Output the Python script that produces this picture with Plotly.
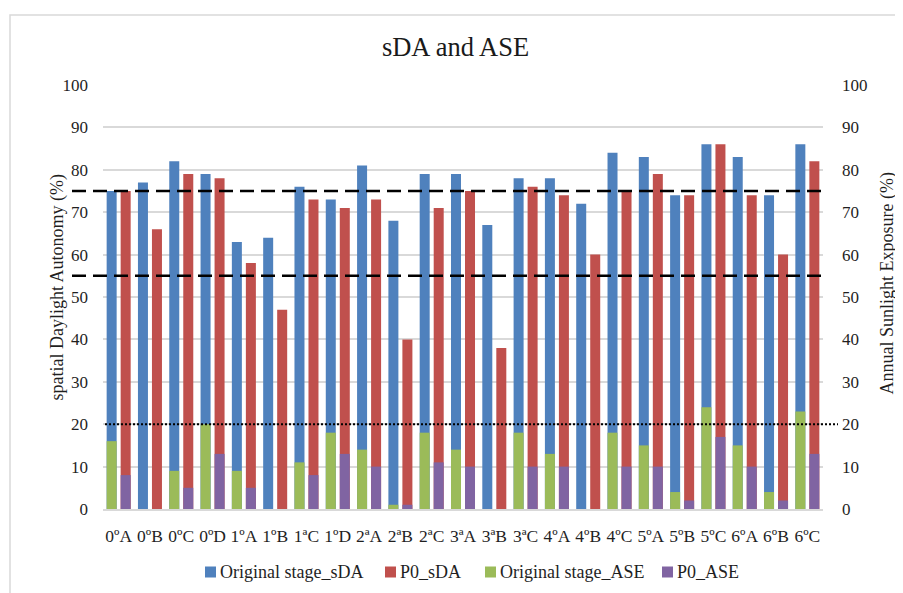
import plotly.graph_objects as go

categories = ["0ºA", "0ºB", "0ºC", "0ºD", "1ºA", "1ºB", "1ªC", "1ºD", "2ªA", "2ªB", "2ªC",
              "3ªA", "3ªB", "3ªC", "4ºA", "4ºB", "4ºC", "5ºA", "5ºB", "5ºC", "6ºA", "6ºB", "6ºC"]
original_sda = [75, 77, 82, 79, 63, 64, 76, 73, 81, 68, 79, 79, 67, 78, 78, 72, 84, 83, 74, 86, 83, 74, 86]
p0_sda = [75, 66, 79, 78, 58, 47, 73, 71, 73, 40, 71, 75, 38, 76, 74, 60, 75, 79, 74, 86, 74, 60, 82]
original_ase = [16, 0, 9, 20, 9, 0, 11, 18, 14, 1, 18, 14, 0, 18, 13, 0, 18, 15, 4, 24, 15, 4, 23]
p0_ase = [8, 0, 5, 13, 5, 0, 8, 13, 10, 1, 11, 10, 0, 10, 10, 0, 10, 10, 2, 17, 10, 2, 13]
series_names = ["Original stage_sDA", "P0_sDA", "Original stage_ASE", "P0_ASE"]
series_colors = ["#4F81BD", "#C0504D", "#9BBB59", "#8064A2"]
sda_thresholds = [75, 55]
ase_threshold = 20

FONT = "Liberation Serif"
OFF = 8  # page body margin in the browser
W, H = 903 - OFF, 593 - OFF
L, R, T, B = 103 - OFF, 80, 85 - OFF, 84
pw, ph = W - L - R, H - T - B


def px_x(p):
    return (p - OFF - L) / pw


def px_y(p):
    return (H - B - (p - OFF)) / ph


fig = go.Figure()
values = [original_sda, p0_sda, original_ase, p0_ase]
axes = ["y", "y", "y2", "y2"]
for name, col, vals, ax in zip(series_names, series_colors, values, axes):
    fig.add_trace(go.Bar(x=categories, y=vals, name=name, yaxis=ax, showlegend=False,
                         marker=dict(color=col, line=dict(width=0))))

shapes = []
for v in sda_thresholds:
    shapes.append(dict(type="line", xref="paper", yref="y", x0=px_x(72), x1=px_x(826),
                       y0=v, y1=v, line=dict(color="black", width=2.5, dash="14px,7px")))
shapes.append(dict(type="line", xref="paper", yref="y2", x0=px_x(105), x1=px_x(838),
                   y0=ase_threshold, y1=ase_threshold,
                   line=dict(color="black", width=2, dash="2px,2px")))
shapes.append(dict(type="rect", xref="paper", yref="paper", x0=px_x(10), x1=px_x(915),
                   y0=px_y(610), y1=px_y(15), line=dict(color="#d9d9d9", width=1.5),
                   fillcolor="rgba(0,0,0,0)", layer="below"))

annotations = [
    dict(text="spatial Daylight Autonomy (%)", xref="paper", yref="paper",
         x=px_x(44), y=px_y(288), textangle=-90, showarrow=False,
         xanchor="left", yanchor="middle", font=dict(size=18, color="#1f1f1f")),
    dict(text="Annual Sunlight Exposure (%)", xref="paper", yref="paper",
         x=px_x(874), y=px_y(284), textangle=-90, showarrow=False,
         xanchor="left", yanchor="middle", font=dict(size=18, color="#1f1f1f")),
]

# legend (drawn manually to match the reference spacing)
legend_x = [205, 385, 485, 662]
leg_y = 572
for lx, name, col in zip(legend_x, series_names, series_colors):
    shapes.append(dict(type="rect", xref="paper", yref="paper",
                       x0=px_x(lx), x1=px_x(lx + 11), y0=px_y(leg_y + 5.5), y1=px_y(leg_y - 5.5),
                       fillcolor=col, line=dict(width=0)))
    annotations.append(dict(text=name, xref="paper", yref="paper", x=px_x(lx + 13),
                            y=px_y(leg_y), xanchor="left", yanchor="middle", showarrow=False,
                            font=dict(size=18, color="#1f1f1f")))

fig.update_layout(
    width=W, height=H,
    margin=dict(l=L, r=R, t=T, b=B, autoexpand=False),
    paper_bgcolor="white", plot_bgcolor="white",
    font=dict(family=FONT, size=17, color="#1f1f1f"),
    barmode="group", bargap=0.105, bargroupgap=0.286,
    showlegend=False,
    title=dict(text="sDA and ASE", x=px_x(463), xanchor="center", y=1 - (47 - OFF) / H,
               yanchor="middle", font=dict(family=FONT, size=26.5, color="#1a1a1a")),
    xaxis=dict(showgrid=False, showline=True, linecolor="#d9d9d9", linewidth=1.5,
               ticks="", ticklabelstandoff=10, tickfont=dict(size=17.5, color="#1f1f1f")),
    yaxis=dict(range=[0, 100], dtick=10, showgrid=True, gridcolor="#d9d9d9", gridwidth=1.5,
               zeroline=False, showline=False, ticks="", ticklabelstandoff=14,
               tickfont=dict(size=17, color="#1f1f1f")),
    yaxis2=dict(range=[0, 100], dtick=10, overlaying="y", side="right", showgrid=False,
                zeroline=False, showline=False, ticks="", ticklabelstandoff=18,
                tickfont=dict(size=17, color="#1f1f1f")),
    shapes=shapes,
    annotations=annotations,
)

fig.write_html("out.html")
